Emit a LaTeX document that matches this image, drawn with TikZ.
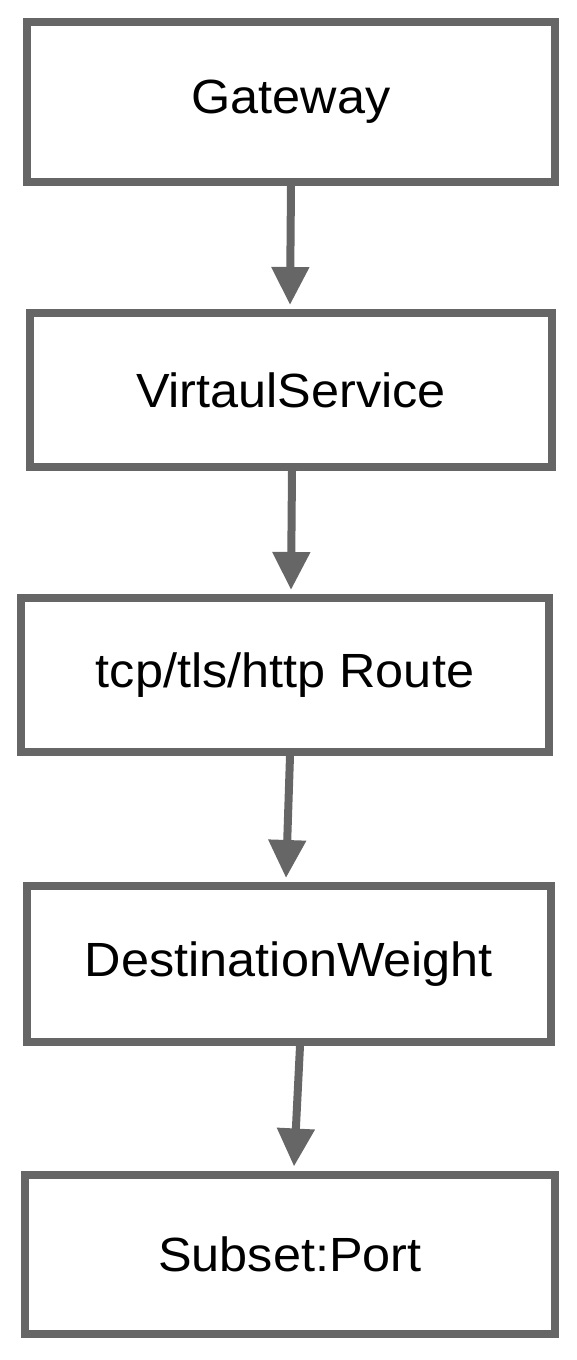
\documentclass[tikz,border=0pt]{standalone}
\usepackage{fontspec}
\setmainfont[FakeStretch=1.05]{Liberation Sans}
\usetikzlibrary{arrows.meta}
\definecolor{penGrey}{HTML}{666666}
\begin{document}
\begin{tikzpicture}[x=1pt,y=-1pt,
    box/.style={rectangle,draw=penGrey,line width=8pt,inner sep=0pt,
      font=\fontsize{48}{56}\selectfont},
    flow/.style={draw=penGrey,line width=8pt,
      -{Triangle[width=36pt,length=38pt]}}]
  \useasboundingbox (0,0) rectangle (576,1360);
  \path (291,102) node[box,minimum width=528pt,minimum height=160pt] (GW) {Gateway};
  \path (291,390) node[box,minimum width=522pt,minimum height=154pt] (VS) {VirtaulService};
  \path (285,675) node[box,minimum width=528pt,minimum height=154pt] (RT) {tcp/tls/http Route};
  \path (289,964) node[box,minimum width=524pt,minimum height=156pt] (DW) {DestinationWeight};
  \path (290,1254) node[box,minimum width=530pt,minimum height=159pt] (SP) {Subset:Port};

  \draw[flow] (GW.south) -- ([xshift=-1pt,yshift=4pt]VS.north);
  \draw[flow] ([xshift=1pt]VS.south) -- ([xshift=6pt,yshift=4pt]RT.north);
  \draw[flow] ([xshift=5pt]RT.south) -- ([xshift=-3pt,yshift=4pt]DW.north);
  \draw[flow] ([xshift=11pt]DW.south) -- ([xshift=4pt,yshift=4pt]SP.north);
\end{tikzpicture}
\end{document}
